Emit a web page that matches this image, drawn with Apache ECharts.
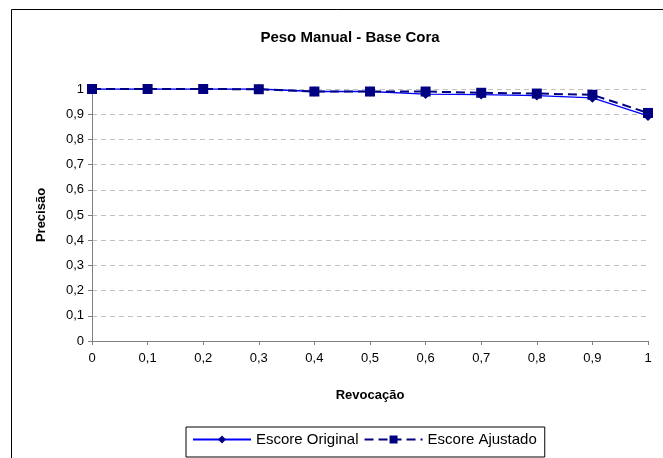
<!DOCTYPE html>
<html><head><meta charset="utf-8">
<script src="https://cdn.jsdelivr.net/npm/echarts@6/dist/echarts.min.js"></script>
<style>html,body{margin:0;padding:0;background:#fff}#c{width:663px;height:458px}</style>
</head><body><div id="c"></div>
<script>
const recall = [0, 0.1, 0.2, 0.3, 0.4, 0.5, 0.6, 0.7, 0.8, 0.9, 1];
const escoreOriginal = [1, 1, 1, 1, 0.99, 0.99, 0.98, 0.978, 0.974, 0.965, 0.893];
const escoreAjustado = [1, 1, 1, 0.999, 0.99, 0.99, 0.99, 0.985, 0.982, 0.977, 0.905];
const yTicks = [0, 0.1, 0.2, 0.3, 0.4, 0.5, 0.6, 0.7, 0.8, 0.9, 1];

const fmt = v => String(Math.round(v * 10) / 10).replace('.', ',');
const font = 'Liberation Sans, Arial, sans-serif';
const chart = echarts.init(document.getElementById('c'));
chart.setOption({
  animation: false,
  backgroundColor: '#fff',
  title: {
    text: 'Peso Manual - Base Cora', left: 345, top: 25, textAlign: 'center',
    textStyle: { fontFamily: font, fontSize: 15, fontWeight: 'bold', color: '#000' }
  },
  graphic: [{
    type: 'rect', shape: { x: 11.5, y: 9.5, width: 700, height: 500 },
    style: { fill: 'none', stroke: '#000', lineWidth: 1 }, silent: true, z: -1
  }],
  grid: { left: 92, right: 15, top: 89, bottom: 117 },
  legend: {
    left: 186, top: 427,
    padding: [5, 8, 10, 6],
    borderColor: '#000', borderWidth: 1,
    itemWidth: 58, itemHeight: 10, itemGap: 5,
    textStyle: { fontFamily: font, fontSize: 15, color: '#000' },
    data: ['Escore Original', 'Escore Ajustado']
  },
  xAxis: {
    type: 'value', min: 0, max: 1, interval: 0.1,
    name: 'Revocação', nameLocation: 'middle', nameGap: 48,
    nameTextStyle: { fontFamily: font, fontSize: 13, fontWeight: 'bold', color: '#000' },
    axisLine: { lineStyle: { color: '#808080' } },
    axisTick: { show: true, length: 4, lineStyle: { color: '#808080' } },
    axisLabel: { formatter: fmt, fontFamily: font, fontSize: 13, color: '#000', margin: 11 },
    splitLine: { show: false }
  },
  yAxis: {
    type: 'value', min: yTicks[0], max: yTicks[yTicks.length - 1], interval: 0.1,
    name: 'Precisão', nameLocation: 'middle', nameGap: 44, nameRotate: 90,
    nameTextStyle: { fontFamily: font, fontSize: 13, fontWeight: 'bold', color: '#000' },
    axisLine: { show: true, lineStyle: { color: '#808080' } },
    axisTick: { show: true, length: 4, lineStyle: { color: '#808080' } },
    axisLabel: { formatter: fmt, fontFamily: font, fontSize: 13, color: '#000', margin: 8 },
    splitLine: { show: true, lineStyle: { color: '#c0c0c0', type: [5, 4] } }
  },
  series: [{
    name: 'Escore Original', type: 'line',
    data: recall.map((x, i) => [x, escoreOriginal[i]]),
    symbol: 'diamond', symbolSize: 10,
    itemStyle: { color: '#000080' },
    lineStyle: { color: '#0000ff', width: 1.3 },
    z: 2
  }, {
    name: 'Escore Ajustado', type: 'line',
    data: recall.map((x, i) => [x, escoreAjustado[i]]),
    symbol: 'rect', symbolSize: 10,
    itemStyle: { color: '#000080' },
    lineStyle: { color: '#000080', width: 2, type: [9, 5] },
    z: 3
  }]
});
</script></body></html>
